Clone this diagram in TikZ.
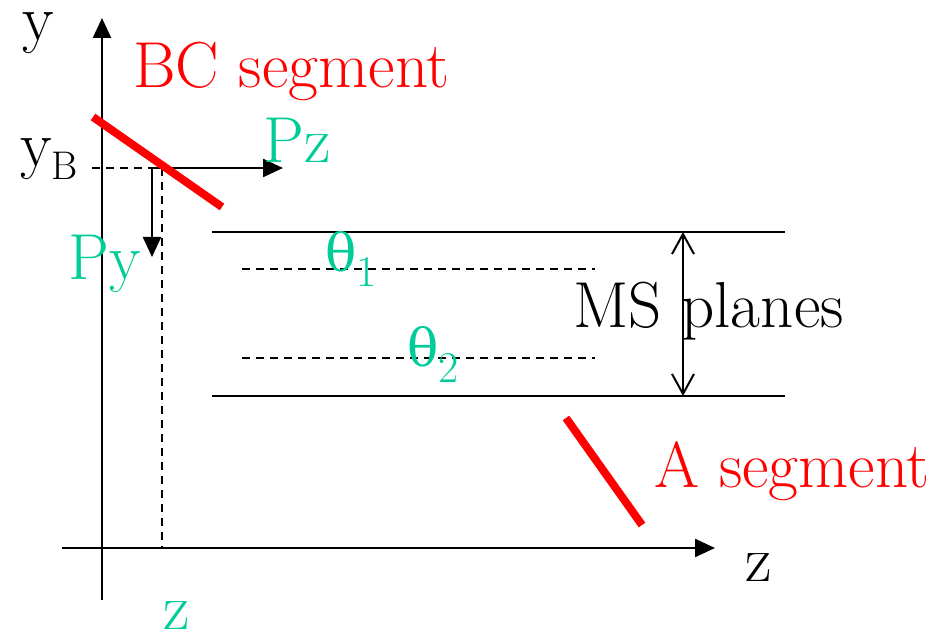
\documentclass[tikz,border=0pt]{standalone}
\usepackage{fontspec}
\newfontfamily\thetafont{DejaVu Serif}
\usetikzlibrary{arrows.meta}
\definecolor{SegRed}{HTML}{FF0000}
\definecolor{LoadGreen}{HTML}{00CC99}
\tikzset{
  axis/.style={line width=1.2pt, -{Triangle[length=10pt,width=9pt]}},
  force/.style={line width=1.2pt, -{Triangle[length=10pt,width=9pt]}},
  plane/.style={line width=1.2pt},
  guide/.style={line width=1pt, dash pattern=on 4pt off 3pt},
  seg/.style={line width=4pt, draw=SegRed},
  span/.style={line width=1pt, {Straight Barb[length=10pt,width=11pt]}-{Straight Barb[length=10pt,width=11pt]}},
  big/.style={inner sep=0, font=\fontsize{32.5}{38}\selectfont},
  lab/.style={big, text=black},
  redlab/.style={big, text=SegRed},
  greenlab/.style={big, text=LoadGreen}
}
\newcommand{\angsub}[2]{{\thetafont\fontsize{26}{30}\selectfont θ}\raisebox{#1}{\fontsize{22}{22}\selectfont #2}}
\begin{document}
\begin{tikzpicture}[x=0.5pt,y=-0.5pt]
\useasboundingbox (0,0) rectangle (939,635);
% axes
\coordinate (O1) at (102,600); \coordinate (Ytop) at (102,18);
\coordinate (Z1) at (62,548); \coordinate (Zend) at (715,548);
\draw[axis] (O1) -- (Ytop);
\draw[axis] (Z1) -- (Zend);
% loads at B
\coordinate (yb) at (92,168); \coordinate (B) at (152,168);
\coordinate (Pzend) at (283,168); \coordinate (Pyend) at (152,257);
\coordinate (zt) at (162,168); \coordinate (zb) at (162,548);
\draw[guide] (yb) -- (B);
\draw[guide] (zt) -- (zb);
\draw[force] (B) -- (Pzend);
\draw[force] (B) -- (Pyend);
% MS planes
\coordinate (ms1a) at (212,232); \coordinate (ms1b) at (785,232);
\coordinate (ms2a) at (212,396); \coordinate (ms2b) at (785,396);
\coordinate (t1a) at (242,269); \coordinate (t1b) at (595,269);
\coordinate (t2a) at (242,358); \coordinate (t2b) at (595,358);
\coordinate (sp1) at (683,232); \coordinate (sp2) at (683,396);
\draw[plane] (ms1a) -- (ms1b);
\draw[plane] (ms2a) -- (ms2b);
\draw[guide] (t1a) -- (t1b);
\draw[guide] (t2a) -- (t2b);
\draw[span] (sp1) -- (sp2);
% segments
\coordinate (bc1) at (93,117); \coordinate (bc2) at (222,207);
\coordinate (a1) at (566,418); \coordinate (a2) at (642,525);
\draw[seg] (bc1) -- (bc2);
\draw[seg] (a1) -- (a2);
% labels
\node[lab, anchor=base west] (ylab) at (22,41) {y};
\node[lab, anchor=base west] (zlab) at (745,582) {z};
\node[lab, anchor=base west] (yblab) at (20,167) {y\raisebox{-6.5pt}{\fontsize{20}{20}\selectfont B}};
\node[redlab, anchor=base west] (bclab) at (133,88) {BC segment};
\node[redlab, anchor=base west] (alab) at (654,488) {A segment};
\node[lab, anchor=base west] (mslab) at (573,328) {MS planes};
\node[greenlab, anchor=base west] (pzlab) at (263,163) {Pz};
\node[greenlab, anchor=base west] (pylab) at (68,280) {Py};
\node[greenlab, anchor=base west] (zglab) at (163,630) {z};
\node[greenlab, anchor=base west] (th1) at (325,272) {\angsub{-7.5pt}{1}};
\node[greenlab, anchor=base west] (th2) at (407,367) {\angsub{-8pt}{2}};
\end{tikzpicture}
\end{document}
